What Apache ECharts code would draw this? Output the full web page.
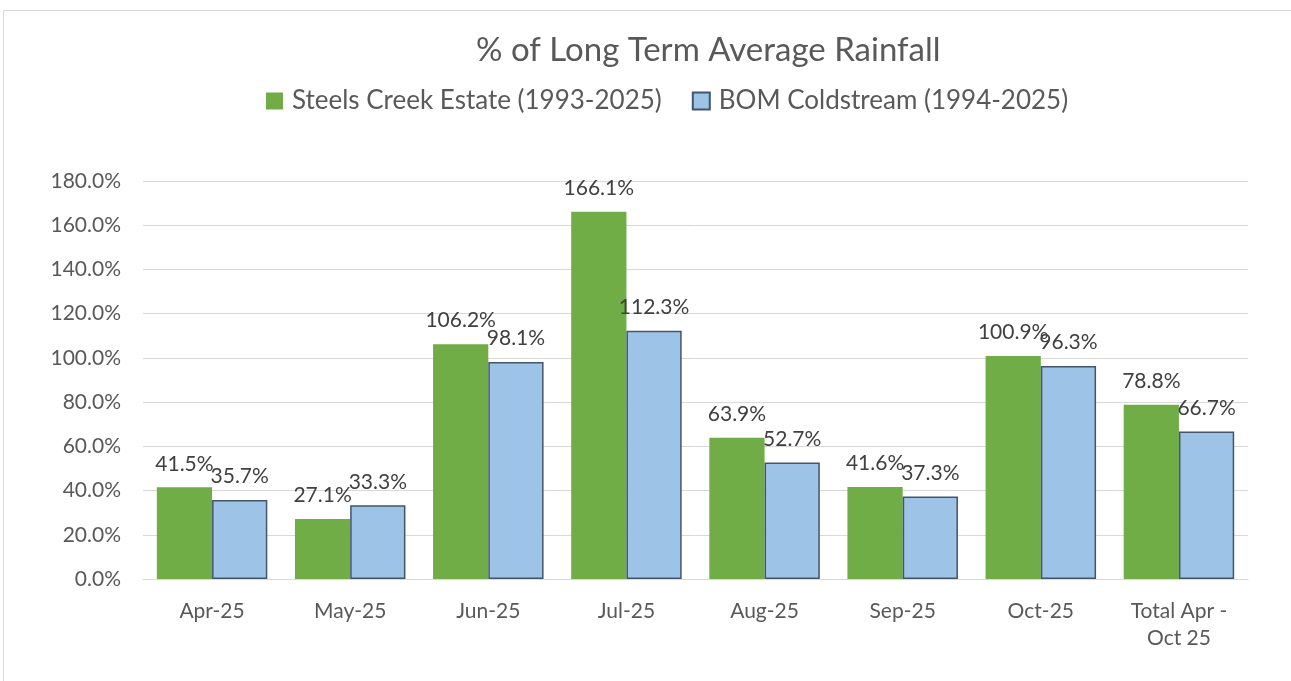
<!DOCTYPE html>
<html><head><meta charset="utf-8">
<script src="https://cdn.jsdelivr.net/npm/echarts@6/dist/echarts.min.js"></script>
<style>html,body{margin:0;padding:0;background:#fff}#c{width:1291px;height:681px}</style>
</head><body><div id="c"></div>
<script>
const categories = ['Apr-25','May-25','Jun-25','Jul-25','Aug-25','Sep-25','Oct-25','Total Apr -\nOct 25'];
const steelsCreek = [41.5, 27.1, 106.2, 166.1, 63.9, 41.6, 100.9, 78.8];
const bomColdstream = [35.7, 33.3, 98.1, 112.3, 52.7, 37.3, 96.3, 66.7];
const seriesNames = ['Steels Creek Estate (1993-2025)', 'BOM Coldstream (1994-2025)'];
const yTicks = {min: 0, max: 180, interval: 20};

const FONT = 'Lato, "Open Sans", sans-serif';
const chart = echarts.init(document.getElementById('c'));
chart.setOption({
  animation: false,
  textStyle: {fontFamily: FONT},
  graphic: [{type:'rect', shape:{x:3.5, y:10.5, width:1300, height:700}, style:{fill:'none', stroke:'#d9d9d9', lineWidth:1}, silent:true}],
  title: {text: '% of Long Term Average Rainfall', left: 471, top: 29,
    textStyle: {fontFamily: FONT, fontSize: 33, fontWeight: 'normal', color: '#595959'}},
  legend: {top: 83, left: 261, itemWidth: 17, itemHeight: 17, itemGap: 30,
    icon: 'rect',
    textStyle: {fontFamily: FONT, fontSize: 26, color: '#595959', padding: [0, 0, 0, 4]},
    data: [{name: seriesNames[0], itemStyle: {borderWidth: 0}}, {name: seriesNames[1]}]},
  grid: {left: 143, right: 43, top: 181, bottom: 102, containLabel: false},
  xAxis: {type: 'category', data: categories,
    axisLine: {lineStyle: {color: '#d9d9d9', width: 1}}, axisTick: {show: false},
    axisLabel: {fontFamily: FONT, fontSize: 21, color: '#595959', margin: 19, lineHeight: 27}},
  yAxis: {type: 'value', min: yTicks.min, max: yTicks.max, interval: yTicks.interval,
    axisLine: {show: false}, axisTick: {show: false},
    splitLine: {lineStyle: {color: '#d9d9d9', width: 1}},
    axisLabel: {fontFamily: FONT, fontSize: 21, color: '#595959', margin: 22,
      formatter: v => v.toFixed(1) + '%'}},
  series: [
    {name: seriesNames[0], type: 'bar', data: steelsCreek, barGap: '0%', barCategoryGap: '20%',
      itemStyle: {color: '#70AD47'},
      label: {show: true, position: 'top', distance: 13, fontFamily: FONT, fontSize: 21, color: '#404040',
        formatter: p => p.value.toFixed(1) + '%'}},
    {name: seriesNames[1], type: 'bar', data: bomColdstream,
      itemStyle: {color: '#9DC3E6', borderColor: '#44546A', borderWidth: 1.5},
      label: {show: true, position: 'top', distance: 13, fontFamily: FONT, fontSize: 21, color: '#404040',
        formatter: p => p.value.toFixed(1) + '%'}}
  ]
});
</script></body></html>
